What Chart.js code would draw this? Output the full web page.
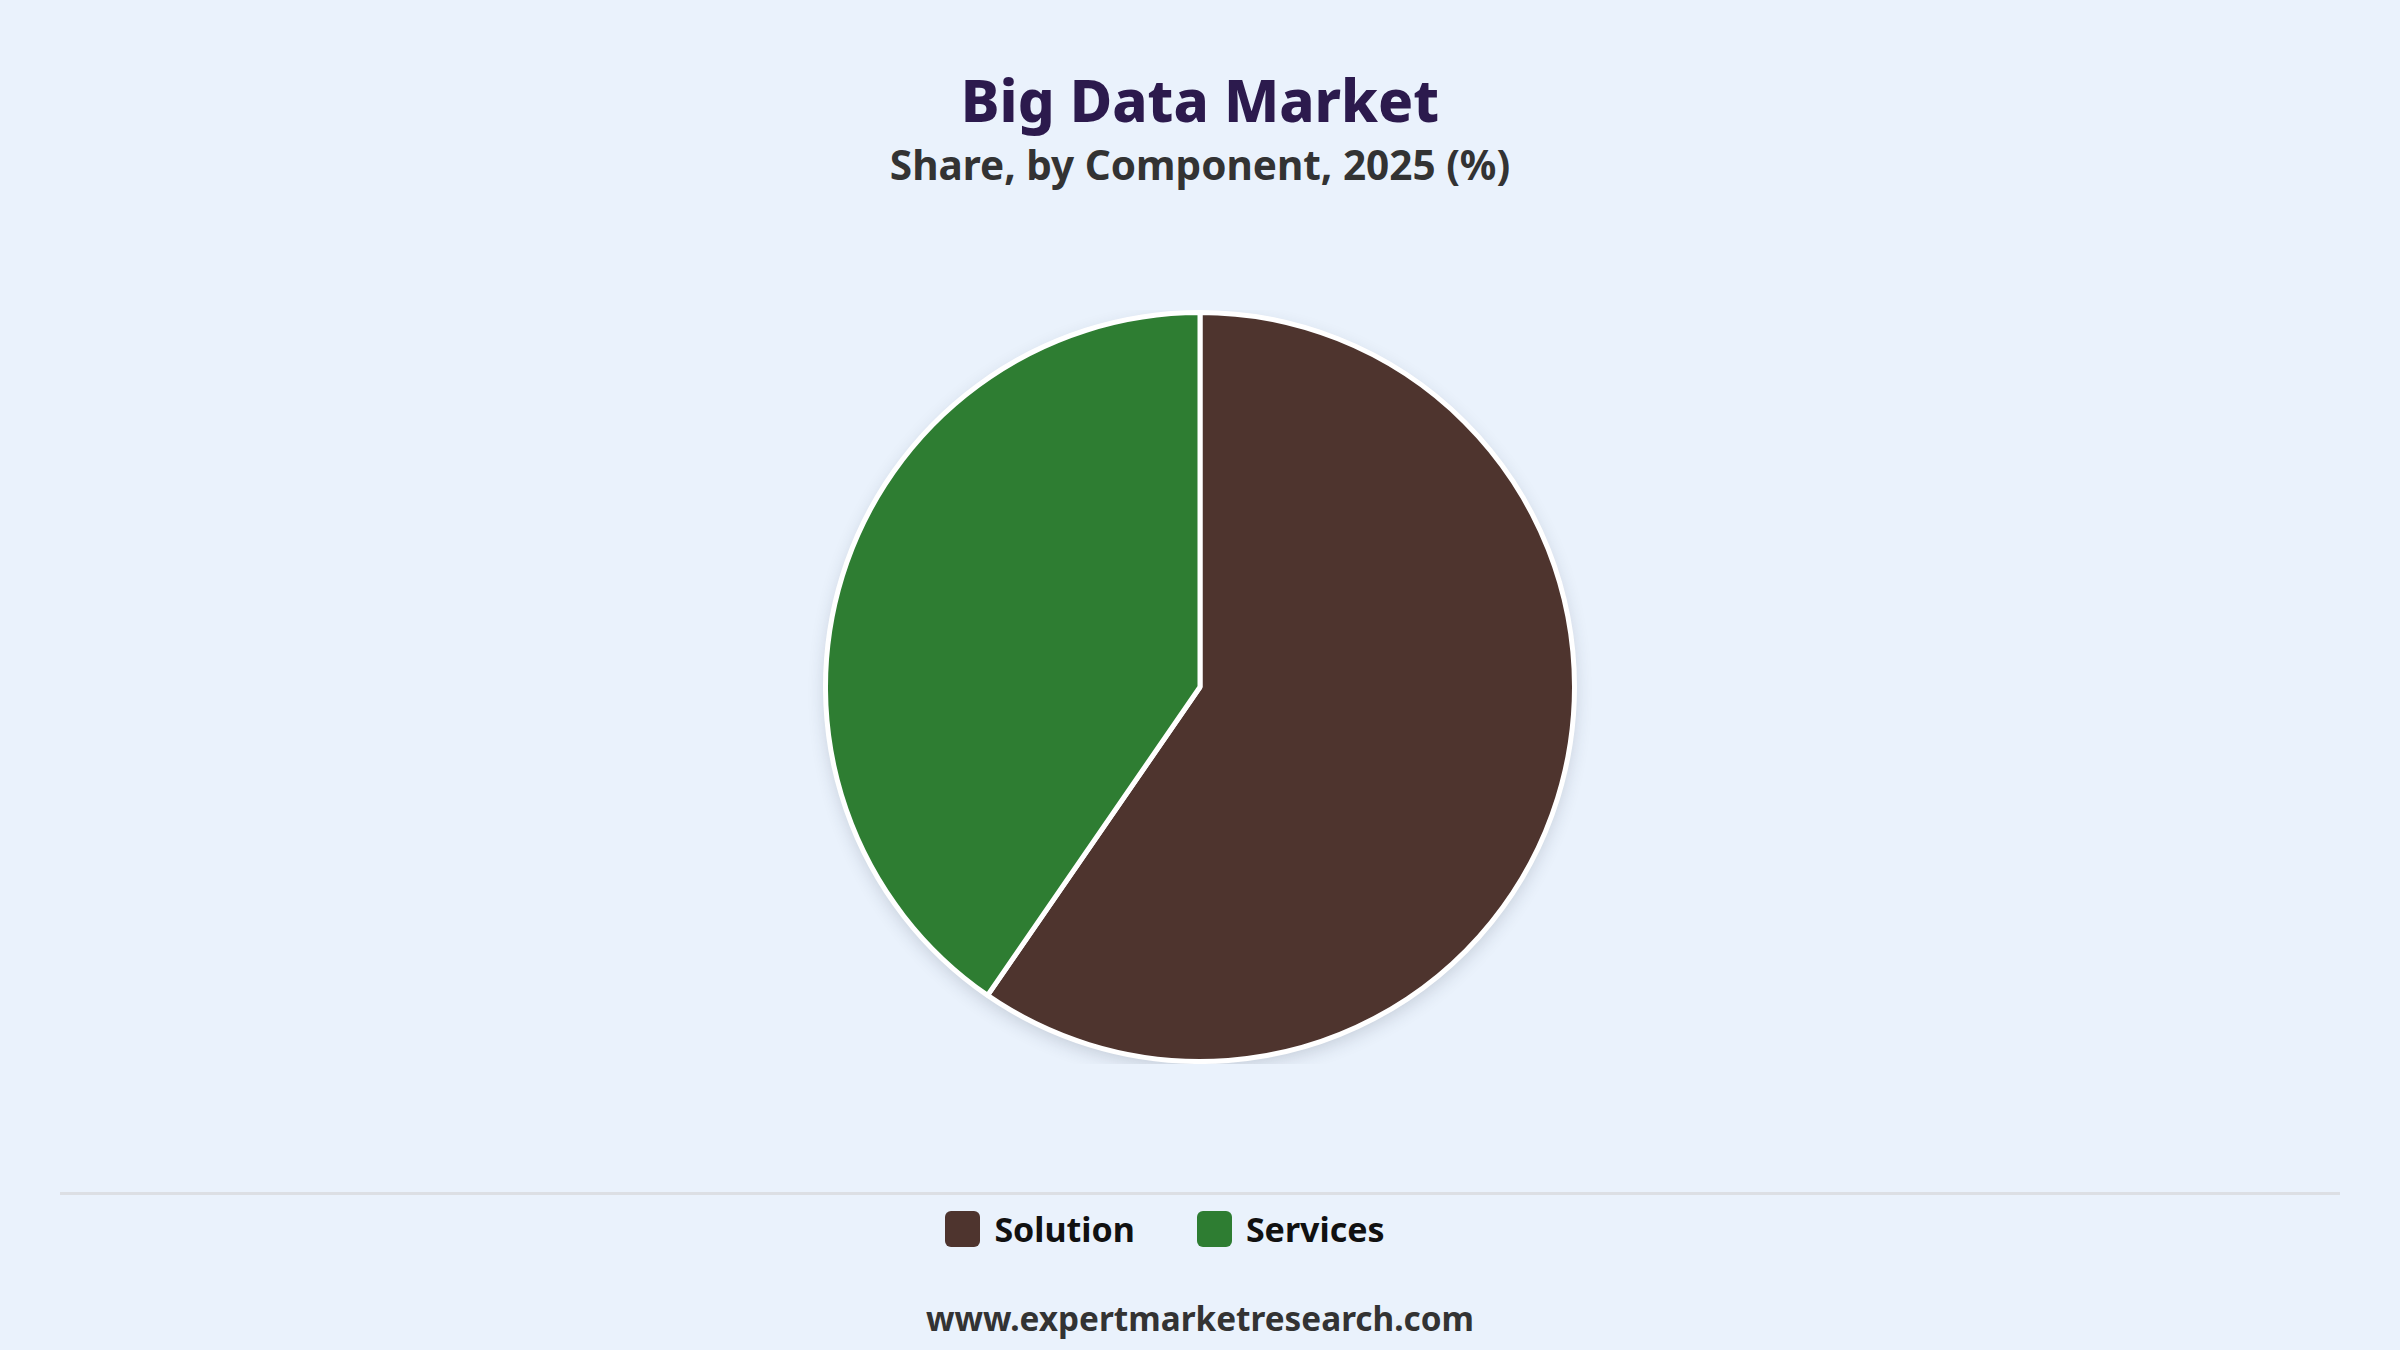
<!DOCTYPE html>
<html lang="en">

<head>
    <meta charset="UTF-8" />
    <title>Big Data Market</title>
    <script src="https://cdn.jsdelivr.net/npm/chart.js"></script>
    <style>
        html, body {
            margin: 0;
            padding: 0;
            width: 2400px;
            height: 1350px;
            background: #eaf2fc;
            font-family: "Noto Sans", "Open Sans", sans-serif;
            overflow: hidden;
        }
        .titulo {
            position: absolute;
            top: 60px;
            width: 2400px;
            text-align: center;
            font-size: 58px;
            font-weight: 800;
            color: #2c1a4d;
            margin: 0;
        }
        .subtitulo {
            position: absolute;
            top: 137px;
            width: 2400px;
            text-align: center;
            font-size: 40.5px;
            font-weight: 700;
            color: #333333;
            margin: 0;
        }
        .grafico {
            position: absolute;
            left: 700px;
            top: 310px;
            width: 1000px;
            height: 754px;
        }
        .linha {
            position: absolute;
            left: 60px;
            top: 1192px;
            width: 2280px;
            height: 3px;
            background: #dcdfe4;
        }
        .legenda {
            position: absolute;
            top: 1206px;
            width: 2330px;
            padding-right: 70px;
            display: flex;
            justify-content: center;
            gap: 62px;
            font-size: 34px;
            font-weight: 700;
            color: #111111;
        }
        .legenda .item {
            display: flex;
            align-items: center;
            gap: 14px;
        }
        .legenda .caixa {
            width: 35px;
            height: 36px;
            border-radius: 6px;
        }
        .rodape {
            position: absolute;
            top: 1295px;
            width: 2400px;
            text-align: center;
            font-size: 33.3px;
            font-weight: 700;
            color: #333333;
        }
    </style>
</head>

<body>
    <h1 class="titulo">Big Data Market</h1>
    <h2 class="subtitulo">Share, by Component, 2025 (%)</h2>

    <div class="grafico">
        <canvas id="pieDash"></canvas>
    </div>

    <div class="linha"></div>
    <div class="legenda" id="legenda"></div>
    <div class="rodape">www.expertmarketresearch.com</div>

    <script>
        // dados
        const componentes = ['Solution', 'Services'];
        const participacao = [59.6, 40.4];
        const cores = ['#4e342e', '#2e7d32'];

        // sombra suave atras da pizza
        const sombraPizza = {
            id: 'sombraPizza',
            beforeDatasetsDraw(chart) {
                const arc = chart.getDatasetMeta(0).data[0];
                if (!arc) return;
                const ctx = chart.ctx;
                ctx.save();
                ctx.shadowColor = 'rgba(40, 50, 70, 0.2)';
                ctx.shadowBlur = 18;
                ctx.shadowOffsetY = 6;
                ctx.fillStyle = '#ffffff';
                ctx.beginPath();
                ctx.arc(arc.x, arc.y, arc.outerRadius, 0, Math.PI * 2);
                ctx.fill();
                ctx.restore();
            }
        };

        new Chart(document.getElementById('pieDash'), {
            type: 'pie',
            data: {
                labels: componentes,
                datasets: [{
                    data: participacao,
                    backgroundColor: cores,
                    borderColor: '#ffffff',
                    borderWidth: 5
                }]
            },
            options: {
                responsive: true,
                maintainAspectRatio: false,
                animation: false,
                plugins: {
                    legend: { display: false },
                    tooltip: { enabled: false }
                }
            },
            plugins: [sombraPizza]
        });

        // legenda em html a partir dos mesmos arrays
        const legenda = document.getElementById('legenda');
        componentes.forEach((nome, i) => {
            const item = document.createElement('div');
            item.className = 'item';
            const caixa = document.createElement('div');
            caixa.className = 'caixa';
            caixa.style.background = cores[i];
            const texto = document.createElement('span');
            texto.textContent = nome;
            item.appendChild(caixa);
            item.appendChild(texto);
            legenda.appendChild(item);
        });
    </script>
</body>

</html>
